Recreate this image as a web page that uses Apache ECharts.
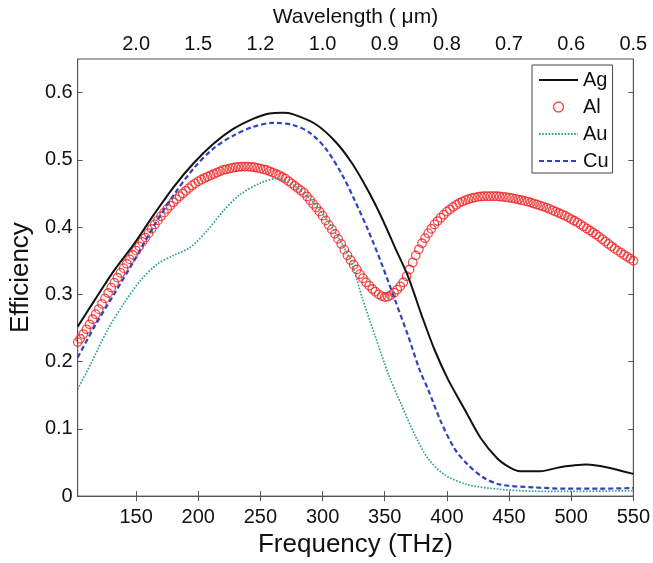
<!DOCTYPE html>
<html>
<head>
<meta charset="utf-8">
<script src="https://cdn.jsdelivr.net/npm/echarts@6/dist/echarts.min.js"></script>
<style>
html,body{margin:0;padding:0;background:#fff;}
#chart{width:653px;height:563px;}
</style>
</head>
<body>
<div id="chart"></div>
<script>
// ---- data ----
const freqTicks = [150, 200, 250, 300, 350, 400, 450, 500, 550];
const wavelengthLabels = ['2.0', '1.5', '1.2', '1.0', '0.9', '0.8', '0.7', '0.6', '0.5'];
const effTicks = [0, 0.1, 0.2, 0.3, 0.4, 0.5, 0.6];
const seriesNames = ['Ag', 'Al', 'Au', 'Cu'];

const ag = [[103,0.252],[116.5,0.291],[132.5,0.336],[148.4,0.375],[164.4,0.419],[180.3,0.460],
  [196.2,0.495],[212.2,0.524],[228.1,0.546],[244,0.561],[257.3,0.569],[268,0.570],[276,0.568],
  [294.5,0.553],[310.4,0.527],[323.7,0.495],[337,0.453],[347.6,0.414],[358.2,0.370],[368.9,0.326],
  [379.5,0.270],[390,0.218],[400.8,0.174],[414,0.130],[427.3,0.086],[440.6,0.056],[451.2,0.042],
  [459,0.037],[475,0.037],[491,0.043],[501.6,0.0455],[512.3,0.047],[528.3,0.043],[550,0.033]];

const al = [[103,0.229],[105,0.234],[107.5,0.241],[110,0.248],[112.5,0.2555],[115,0.263],[117.5,0.2705],
  [120,0.278],[122.5,0.286],[125,0.294],[127.5,0.302],[130,0.310],[132.5,0.3175],[135,0.325],[137.5,0.332],
  [140,0.339],[142.5,0.3455],[145,0.352],[147.5,0.3585],[150,0.365],[152.5,0.3715],[155,0.378],[157.5,0.3845],
  [160,0.391],[162.5,0.3975],[165,0.404],[167.5,0.410],[170,0.416],[172.5,0.4215],[175,0.427],[177.5,0.432],
  [180,0.437],[182.5,0.4415],[185,0.446],[187.5,0.450],[190,0.454],[192.5,0.458],[195,0.462],[197.5,0.465],
  [200,0.468],[202.5,0.4705],[205,0.473],[207.5,0.475],[210,0.477],[212.5,0.479],[215,0.481],[217.5,0.483],
  [220,0.485],[222.5,0.486],[225,0.487],[227.5,0.488],[230,0.489],[232.5,0.4895],[235,0.490],[237.5,0.490],
  [240,0.490],[242.5,0.4895],[245,0.489],[247.5,0.488],[250,0.487],[252.5,0.486],[255,0.485],[257.5,0.483],
  [260,0.481],[262.5,0.479],[265,0.477],[267.5,0.4745],[270,0.472],[272.5,0.4685],[275,0.465],[277.5,0.4615],
  [280,0.458],[282.5,0.4545],[285,0.451],[287.5,0.4455],[290,0.440],[292.5,0.4345],[295,0.429],[297.5,0.423],
  [300,0.417],[302.5,0.410],[305,0.403],[307.5,0.3965],[310,0.390],[312.5,0.3825],[315,0.375],[317.5,0.3665],
  [320,0.358],[322.5,0.351],[325,0.344],[327.5,0.337],[330,0.330],[332.5,0.324],[335,0.318],[337.5,0.313],
  [340,0.308],[342.5,0.304],[345,0.300],[347.5,0.2975],[350,0.296],[352.5,0.2965],[355,0.299],[357.5,0.3025],
  [360,0.307],[362.5,0.312],[365,0.318],[367.5,0.327],[370,0.337],[372.5,0.3475],[375,0.358],[377.5,0.367],
  [380,0.376],[382.5,0.3835],[385,0.391],[387.5,0.3975],[390,0.404],[392.5,0.409],[395,0.414],[397.5,0.4185],
  [400,0.423],[402.5,0.4265],[405,0.430],[407.5,0.433],[410,0.436],[412.5,0.438],[415,0.440],[417.5,0.4415],
  [420,0.443],[422.5,0.444],[425,0.445],[427.5,0.4455],[430,0.446],[432.5,0.446],[435,0.446],[437.5,0.446],
  [440,0.446],[442.5,0.4455],[445,0.445],[447.5,0.4445],[450,0.444],[452.5,0.443],[455,0.442],[457.5,0.441],
  [460,0.440],[462.5,0.439],[465,0.438],[467.5,0.4365],[470,0.435],[472.5,0.4335],[475,0.432],[477.5,0.4305],
  [480,0.429],[482.5,0.427],[485,0.425],[487.5,0.423],[490,0.421],[492.5,0.419],[495,0.417],[497.5,0.4145],
  [500,0.412],[502.5,0.4095],[505,0.407],[507.5,0.404],[510,0.401],[512.5,0.398],[515,0.395],[517.5,0.392],
  [520,0.389],[522.5,0.3855],[525,0.382],[527.5,0.3785],[530,0.375],[532.5,0.3715],[535,0.368],[537.5,0.365],
  [540,0.362],[542.5,0.359],[545,0.356],[547.5,0.353],[550,0.350]];

const au = [[103,0.159],[113.9,0.198],[127,0.247],[140.4,0.287],[153.7,0.321],[167,0.345],[180.3,0.358],
  [193.6,0.370],[206.8,0.394],[220,0.424],[233.4,0.448],[249.4,0.465],[262.6,0.472],[276,0.463],
  [289.2,0.443],[302.4,0.414],[315.7,0.375],[323.7,0.345],[331.7,0.296],[342.3,0.238],[353,0.181],
  [363.6,0.135],[374.2,0.091],[384.8,0.056],[398,0.032],[416.7,0.017],[443.2,0.010],[469.8,0.0073],
  [496,0.007],[550,0.008]];

const cu = [[103,0.206],[116.5,0.252],[132.5,0.301],[148.4,0.350],[164.4,0.402],[180.3,0.448],
  [196.2,0.487],[212.2,0.517],[228.1,0.536],[244,0.549],[260,0.555],[276,0.552],[289.2,0.541],
  [302.4,0.517],[315.7,0.478],[326.3,0.438],[337,0.394],[347.6,0.345],[358.2,0.292],[368.9,0.238],
  [378,0.188],[384.8,0.159],[395.4,0.110],[406,0.071],[416.7,0.047],[430,0.027],[443.2,0.017],
  [469.8,0.013],[496.4,0.011],[523,0.011],[550,0.012]];

// ---- chart ----
const FONT = '"Liberation Sans", Arial, Helvetica, sans-serif';
const AXIS_COLOR = '#555';
const RED = '#f02222';
const chart = echarts.init(document.getElementById('chart'), null, {renderer: 'canvas'});

const tickStyle = {show: true, inside: true, length: 5, lineStyle: {color: AXIS_COLOR, width: 1}};
const noSymbol = {opacity: 0};

const option = {
  animation: false,
  backgroundColor: '#fff',
  textStyle: {fontFamily: FONT},
  grid: {left: 73, right: 18, top: 59, bottom: 62, show: true, borderColor: AXIS_COLOR, borderWidth: 1, containLabel: false},
  legend: {
    orient: 'vertical', left: 532, top: 65,
    data: [
      {name: 'Ag', itemStyle: noSymbol},
      {name: 'Al', itemStyle: {color: 'rgba(0,0,0,0)', borderColor: RED, borderWidth: 1.4}},
      {name: 'Au', itemStyle: noSymbol},
      {name: 'Cu', itemStyle: noSymbol}
    ],
    itemWidth: 39, itemHeight: 10, itemGap: 7,
    padding: [5, 4, 2, 6],
    borderColor: '#444', borderWidth: 1, backgroundColor: '#fff',
    textStyle: {fontFamily: FONT, fontSize: 20, color: '#111', lineHeight: 20}
  },
  xAxis: [{
    type: 'value', position: 'bottom', min: 103, max: 550,
    name: 'Frequency (THz)', nameLocation: 'middle', nameGap: 32,
    nameTextStyle: {fontFamily: FONT, fontSize: 26, color: '#111'},
    axisLine: {show: true, lineStyle: {color: AXIS_COLOR}},
    axisTick: Object.assign({customValues: freqTicks}, tickStyle),
    axisLabel: {customValues: freqTicks, margin: 11, fontFamily: FONT, fontSize: 20, color: '#111'},
    splitLine: {show: false}
  }, {
    type: 'value', position: 'top', min: 103, max: 550, offset: 3,
    name: 'Wavelength ( \u03bcm)', nameLocation: 'middle', nameGap: 28,
    nameTextStyle: {fontFamily: FONT, fontSize: 21, color: '#111'},
    axisLine: {show: true, lineStyle: {color: AXIS_COLOR}},
    axisTick: Object.assign({customValues: freqTicks}, tickStyle),
    axisLabel: {customValues: freqTicks, margin: 2, fontFamily: FONT, fontSize: 20, color: '#111',
      formatter: function (v) { const i = freqTicks.indexOf(v); return i >= 0 ? wavelengthLabels[i] : ''; }},
    splitLine: {show: false}
  }],
  yAxis: [{
    type: 'value', position: 'left', min: 0, max: 0.65,
    name: 'Efficiency', nameLocation: 'middle', nameGap: 29,
    nameTextStyle: {fontFamily: FONT, fontSize: 26, color: '#111'},
    axisLine: {show: true, lineStyle: {color: AXIS_COLOR}},
    axisTick: Object.assign({customValues: effTicks}, tickStyle),
    axisLabel: {customValues: effTicks, margin: 5, fontFamily: FONT, fontSize: 20, color: '#111',
      formatter: function (v) { return v === 0 ? '0' : v.toFixed(1); }},
    splitLine: {show: false}
  }, {
    type: 'value', position: 'right', min: 0, max: 0.65,
    axisLine: {show: true, lineStyle: {color: AXIS_COLOR}},
    axisTick: Object.assign({customValues: effTicks}, tickStyle),
    axisLabel: {show: false},
    splitLine: {show: false}
  }],
  series: [{
    name: 'Ag', type: 'line', data: ag, smooth: 0.3, symbol: 'none', z: 4,
    lineStyle: {color: '#111', width: 2},
    itemStyle: {color: '#111'}
  }, {
    name: 'Al', type: 'scatter', data: al, symbol: 'circle', symbolSize: 8.5, z: 3,
    itemStyle: {color: 'rgba(0,0,0,0)', borderColor: RED, borderWidth: 1.3}
  }, {
    name: 'Au', type: 'line', data: au, smooth: 0.3, symbol: 'none', z: 5,
    lineStyle: {color: '#2e9e94', width: 1.7, type: [1.6, 1.6]},
    itemStyle: {color: '#2e9e94'}
  }, {
    name: 'Cu', type: 'line', data: cu, smooth: 0.3, symbol: 'none', z: 5,
    lineStyle: {color: '#3344bb', width: 2.2, type: [5, 3]},
    itemStyle: {color: '#3344bb'}
  }]
};
chart.setOption(option);
</script>
</body>
</html>
